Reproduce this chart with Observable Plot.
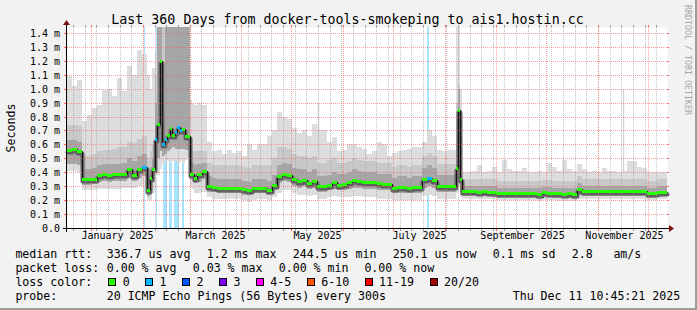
<!DOCTYPE html>
<html>
<head>
<meta charset="utf-8">
<script src="https://cdn.jsdelivr.net/npm/d3@7"></script>
<script src="https://cdn.jsdelivr.net/npm/@observablehq/plot@0.6"></script>
<style>
  html, body { margin: 0; padding: 0; background: #f2f2f2; }
  svg { display: block; }
</style>
</head>
<body>
<div id="chart"></div>
<script>
// ---------------- data (values in milliseconds) ----------------
const startUTC = Date.UTC(2024, 11, 17, 12);   // left edge of the time axis
const spanDays = 360;
const yTop = 1.443;

// sample start, in days from the left edge
const days = [
  0,3,6,9,12,15,18,21,24,27,30,33,36,39,42,45,
  48,49.5,51,52.5,54,55.5,57,58.5,60,61.5,63,64.5,66,67.5,69,70.5,72,73.5,75,76.5,
  78,81,84,87,90,93,96,99,102,105,108,111,114,117,120,123,126,129,132,135,138,141,144,147,150,153,156,159,
  162,165,168,171,174,177,180,183,186,189,192,195,198,201,204,207,210,213,216,219,222,225,228,
  231,233.4,234.6,235.8,
  237,240,243,246,249,252,255,258,261,264,267,270,273,276,279,282,285,288,291,294,297,300,303,306,309,312,315,318,321,324,327,330,333,336,339,342,345,348,351,354,357
];
// median rtt
const medRtt = [
  .56,.565,.55,.35,.35,.355,.38,.385,.38,.385,.385,.39,.42,.38,.42,.435,
  .27,.36,.42,.64,.75,1.2,.60,.64,.67,.72,.67,.69,.725,.705,.71,.66,.66,.39,.39,.36,
  .39,.41,.30,.295,.29,.29,.29,.29,.29,.28,.27,.29,.29,.29,.27,.31,.37,.39,.38,.35,.335,.345,.325,.34,.30,.30,.31,.33,
  .31,.315,.327,.345,.335,.33,.327,.327,.32,.318,.318,.29,.295,.295,.29,.295,.295,.35,.36,.342,.30,.30,.30,
  .30,.43,.845,.35,
  .263,.263,.263,.262,.263,.262,.26,.252,.252,.252,.25,.25,.251,.25,.249,.245,.255,.253,.25,.248,.247,.248,.245,.28,.265,.265,.266,.265,.265,.263,.264,.265,.263,.265,.266,.264,.265,.25,.252,.26,.262
];
// smoke: lowest ping
const smokeLo = [
  .41,.41,.40,.27,.27,.27,.28,.28,.28,.28,.28,.29,.29,.29,.30,.30,
  .20,.20,.25,.30,.38,.42,.46,.48,.48,.47,.48,.48,.47,.48,.47,.49,.50,.30,.28,.25,
  .25,.26,.22,.21,.21,.21,.21,.21,.21,.20,.19,.20,.21,.21,.20,.22,.25,.27,.27,.25,.24,.24,.23,.24,.21,.21,.22,.23,
  .22,.22,.22,.23,.23,.22,.22,.22,.21,.21,.21,.20,.20,.20,.20,.20,.20,.23,.24,.23,.21,.21,.21,
  .21,.25,.30,.22,
  .205,.205,.205,.205,.205,.205,.205,.20,.20,.20,.20,.20,.20,.20,.20,.195,.20,.20,.20,.195,.195,.195,.195,.21,.21,.21,.21,.21,.21,.21,.21,.21,.21,.21,.21,.21,.21,.20,.20,.205,.205
];
// smoke: lower edge of the inner pings
const smokeDn = [
  .46,.46,.45,.31,.31,.315,.33,.335,.33,.335,.335,.34,.36,.34,.36,.37,
  .23,.27,.33,.42,.50,.55,.52,.53,.55,.57,.58,.57,.57,.57,.57,.56,.56,.35,.34,.32,
  .33,.35,.26,.255,.25,.25,.25,.25,.25,.24,.235,.25,.25,.25,.24,.27,.32,.34,.33,.30,.29,.30,.28,.29,.26,.26,.27,.28,
  .27,.27,.28,.29,.29,.28,.28,.28,.27,.27,.27,.25,.25,.25,.25,.25,.25,.29,.30,.29,.26,.26,.26,
  .26,.33,.40,.26,
  .228,.228,.228,.227,.228,.227,.225,.218,.218,.218,.216,.216,.217,.216,.215,.211,.221,.219,.216,.214,.213,.214,.211,.24,.23,.23,.231,.23,.23,.228,.229,.23,.228,.23,.231,.229,.23,.216,.218,.225,.227
];
// smoke: upper edge of the inner pings
const smokeUp = [
  .63,.63,.62,.42,.42,.43,.45,.46,.46,.46,.46,.47,.50,.48,.52,.53,
  .38,.44,.50,.90,1.44,1.44,.80,1.44,1.44,1.44,1.44,1.44,1.44,1.44,1.44,1.44,1.44,.47,.47,.45,
  .46,.47,.37,.36,.35,.35,.35,.35,.35,.34,.33,.35,.35,.35,.34,.38,.45,.47,.46,.43,.42,.42,.40,.42,.37,.37,.38,.40,
  .39,.39,.40,.42,.41,.40,.40,.40,.39,.39,.39,.36,.37,.37,.36,.37,.37,.43,.45,.43,.38,.38,.38,
  .38,.60,1.00,.45,
  .30,.30,.30,.30,.30,.30,.30,.29,.29,.29,.29,.29,.29,.29,.29,.285,.295,.295,.29,.29,.29,.29,.285,.32,.305,.305,.305,.305,.305,.305,.305,.305,.305,.305,.305,.305,.305,.29,.29,.30,.30
];
// smoke: upper edge of the middle pings
const smokeHi = [
  .74,.74,.73,.52,.52,.53,.55,.56,.56,.57,.58,.58,.62,.61,.64,.66,
  .50,.55,.60,1.10,1.44,1.44,1.44,1.44,1.44,1.44,1.44,1.44,1.44,1.44,1.44,1.44,1.44,.56,.55,.55,
  .55,.55,.47,.45,.45,.45,.45,.45,.45,.44,.43,.45,.45,.45,.45,.50,.58,.58,.57,.53,.52,.52,.50,.52,.47,.47,.49,.50,
  .47,.47,.48,.50,.49,.48,.48,.48,.47,.47,.47,.44,.45,.45,.44,.45,.45,.52,.54,.52,.46,.46,.46,
  .46,.90,1.02,.60,
  .35,.35,.35,.35,.35,.35,.35,.34,.34,.34,.34,.34,.34,.34,.34,.335,.345,.345,.34,.34,.34,.34,.335,.37,.355,.355,.355,.355,.355,.355,.355,.355,.355,.355,.355,.355,.355,.34,.34,.35,.35
];
// smoke: highest ping
const smokeMax = [
  1.09,1.02,1.06,.77,.81,.86,.88,.99,1.0,.95,1.08,.98,1.16,1.1,1.28,1.25,
  1.10,1.00,1.15,1.25,1.44,1.44,1.44,1.44,1.44,1.44,1.44,1.44,1.44,1.44,1.44,1.44,1.44,.92,.90,.88,
  .90,.88,.62,.55,.56,.53,.56,.54,.55,.52,.60,.56,.60,.60,.66,.70,.83,.80,.78,.72,.68,.70,.66,.75,.70,.70,.62,.65,
  .55,.56,.60,.60,.58,.57,.53,.55,.62,.60,.52,.54,.55,.56,.57,.58,.58,.62,.70,.66,.56,.55,.56,
  .56,1.44,1.44,1.00,
  .40,.40,.41,.45,.40,.41,.44,.40,.49,.42,.41,.41,.43,.40,.40,.41,.40,.47,.44,.41,.49,.42,.41,.46,.42,.40,.41,.40,.43,.41,.41,.40,.41,.48,.48,.44,.43,.40,.40,.40,.40
];
// samples whose median is coloured by loss (pings lost out of 20)
const lossDays   = [45, 52.5, 57, 58.5, 64.5, 66, 67.5, 216];
const lossCounts = [1, 1, 1, 1, 1, 1, 1, 1];
// loss background bars (days)
const lossBarFrom = [46.0, 53.4, 57.6, 61.2, 64.2, 68.7, 216.0];
const lossBarTo   = [47.0, 54.2, 60.0, 63.0, 67.4, 70.0, 217.2];
// thin single max-ping spikes
const spikeDays = [150.3, 333.4];
const spikeBase = [0.50, 0.40];
const spikeTops = [0.90, 1.00];

const yTicks = [0,0.1,0.2,0.3,0.4,0.5,0.6,0.7,0.8,0.9,1.0,1.1,1.2,1.3,1.4];
const monthLabels = ["January 2025","March 2025","May 2025","July 2025","September 2025","November 2025"];
const monthLabelStarts = ["2025-01-01","2025-03-01","2025-05-01","2025-07-01","2025-09-01","2025-11-01"];

const lossLegend = ["0","1","2","3","4-5","6-10","11-19","20/20"];
const lossLegendColors = ["#26ff00","#00b8ff","#0059ff","#7e00ff","#ff00ff","#ff5500","#ff0000","#a00000"];

const titleText = "Last 360 Days from docker-tools-smokeping to ais1.hostin.cc";
const legendLines = [
  [["median rtt:",16],["336.7 us avg",107.3],["1.2 ms max",207.3],["244.5 us min",293.3],["250.1 us now",393.3],["0.1 ms sd",493.3],["2.8",572.3],["am/s",614]],
  [["packet loss:",16],["0.00 % avg",107.3],["0.03 % max",193.3],["0.00 % min",279.3],["0.00 % now",365]],
  [["loss color:",16]],
  [["probe:",16],["20 ICMP Echo Pings (56 Bytes) every 300s",107.3],["Thu Dec 11 10:45:21 2025",513.3]]
];

// ---------------- build ----------------
const DAY = 864e5;
const T = d => new Date(startUTC + d * DAY);
const t0 = T(0), t1 = T(spanDays);

function lossColor(n) {
  if (n === 0) return lossLegendColors[0];
  if (n === 1) return lossLegendColors[1];
  if (n === 2) return lossLegendColors[2];
  if (n === 3) return lossLegendColors[3];
  if (n <= 5) return lossLegendColors[4];
  if (n <= 10) return lossLegendColors[5];
  if (n <= 19) return lossLegendColors[6];
  return lossLegendColors[7];
}

const rows = days.map((d, i) => {
  const k = lossDays.indexOf(d);
  return {
    t: T(d), t2: T(i + 1 < days.length ? days[i + 1] : spanDays),
    med: medRtt[i], lo: smokeLo[i], dn: smokeDn[i], up: smokeUp[i], hi: smokeHi[i], mx: smokeMax[i],
    loss: k >= 0 ? lossCounts[k] : 0
  };
});
const lineRows = rows.concat([{t: t1, med: medRtt[medRtt.length - 1]}]);
const lossBars = lossBarFrom.map((a, i) => ({a: T(a), b: T(lossBarTo[i])}));
const spikes = spikeDays.map((d, i) => ({t: T(d), base: spikeBase[i], top: spikeTops[i]}));
const weeks = d3.utcSaturday.range(t0, t1);
const months = d3.utcMonth.range(t0, t1);
const labelRows = monthLabels.map((l, i) => ({label: l, t: new Date(new Date(monthLabelStarts[i] + "T00:00:00Z").getTime() + 15.5 * DAY)}));

const GRID = "#9a9a9a", MGRID = "#ff5f5f";
const FONT = "'DejaVu Sans Mono', monospace";

const plot = Plot.plot({
  width: 697, height: 310,
  marginLeft: 67, marginRight: 30, marginTop: 27, marginBottom: 82,
  x: {type: "utc", domain: [t0, t1], axis: null, round: true},
  y: {domain: [0, yTop], axis: null, round: true},
  style: {background: "#f2f2f2", fontFamily: FONT, overflow: "visible", color: "#000"},
  marks: [
    Plot.frame({fill: "#ffffff", stroke: "none"}),
    Plot.rect(lossBars, {x1: "a", x2: "b", y1: 0, y2: yTop, fill: "#a8e4fc", shapeRendering: "crispEdges"}),
    Plot.rect(rows, {x1: "t", x2: "t2", y1: "lo", y2: "mx", fill: "#dddddd", shapeRendering: "crispEdges"}),
    Plot.rect(rows, {x1: "t", x2: "t2", y1: "dn", y2: "hi", fill: "#c8c8c8", shapeRendering: "crispEdges"}),
    Plot.rect(rows, {x1: "t", x2: "t2", y1: "dn", y2: "up", fill: "#a6a6a6", shapeRendering: "crispEdges"}),
    Plot.ruleX(spikes, {x: "t", y1: "base", y2: "top", stroke: "#d6d6d6", strokeWidth: 1.5}),
    // dark core of the smoke, just under the median
    Plot.line(lineRows, {x: "t", y: "med", curve: "step-after", stroke: "#606060", strokeWidth: 4, dy: 2}),
    // grid
    Plot.ruleX(weeks, {stroke: GRID, strokeOpacity: 0.6, strokeDasharray: "1,1"}),
    Plot.ruleX(months, {stroke: MGRID, strokeOpacity: 0.6, strokeDasharray: "1,1"}),
    Plot.ruleY(yTicks.filter(v => v > 0), {stroke: MGRID, strokeOpacity: 0.6, strokeDasharray: "1,1"}),
    // median
    Plot.line(lineRows, {x: "t", y: "med", curve: "step-after", stroke: "#111", strokeWidth: 1}),
    Plot.ruleY(rows, {x1: "t", x2: "t2", y: "med", stroke: d => lossColor(d.loss), strokeWidth: 3}),
    // tick labels
    Plot.text(yTicks, {frameAnchor: "left", y: d => d, text: d => d === 0 ? "0.0" : d.toFixed(1) + " m", textAnchor: "end", dx: -7.5, fontSize: 10, fill: "#000"}),
    Plot.text(labelRows, {x: "t", frameAnchor: "bottom", text: "label", dy: 10, fontSize: 10, fill: "#000"})
  ]
});
document.getElementById("chart").append(plot);

// ---------------- frame decorations, title and legend ----------------
const svg = d3.select(plot);
const sx = plot.scale("x"), sy = plot.scale("y");
const X0 = sx.apply(t0), X1 = sx.apply(t1), Y0 = sy.apply(0), Y1 = sy.apply(yTop);
const g = svg.append("g");

// tick marks on the frame
weeks.forEach(w => {
  const x = Math.round(sx.apply(w)) + 0.5;
  g.append("line").attr("x1", x).attr("x2", x).attr("y1", Y0).attr("y2", Y0 + 3).attr("stroke", GRID);
  g.append("line").attr("x1", x).attr("x2", x).attr("y1", Y1 - 2).attr("y2", Y1).attr("stroke", GRID);
});
months.forEach(m => {
  const x = Math.round(sx.apply(m)) + 0.5;
  g.append("line").attr("x1", x).attr("x2", x).attr("y1", Y0).attr("y2", Y0 + 3).attr("stroke", MGRID);
  g.append("line").attr("x1", x).attr("x2", x).attr("y1", Y1 - 2).attr("y2", Y1).attr("stroke", MGRID);
});
yTicks.forEach(v => {
  const y = Math.round(sy.apply(v)) + 0.5;
  g.append("line").attr("x1", X0 - 3).attr("x2", X0).attr("y1", y).attr("y2", y).attr("stroke", MGRID);
  g.append("line").attr("x1", X1).attr("x2", X1 + 2).attr("y1", y).attr("y2", y).attr("stroke", MGRID);
});
// axes + arrows
const ya = Math.round(Y0) + 0.5, xa = Math.round(X0) - 0.5;
g.append("line").attr("x1", X0 - 4).attr("x2", X1 + 4).attr("y1", ya).attr("y2", ya).attr("stroke", "#000");
g.append("line").attr("x1", xa).attr("x2", xa).attr("y1", Y0 + 4).attr("y2", Y1 - 4).attr("stroke", "#000");
g.append("path").attr("d", `M${X1 + 2},${ya - 3.5}L${X1 + 2},${ya + 3.5}L${X1 + 7},${ya}Z`).attr("fill", "#7a1010");
g.append("path").attr("d", `M${xa - 3.5},${Y1 - 2}L${xa + 3.5},${Y1 - 2}L${xa},${Y1 - 7}Z`).attr("fill", "#7a1010");

// title
svg.append("text").attr("x", 347.5).attr("y", 24).attr("text-anchor", "middle")
  .attr("font-size", 13.3).attr("fill", "#000").text(titleText);
// y title
svg.append("text").attr("transform", "translate(10.5,128) rotate(-90)").attr("text-anchor", "middle")
  .attr("dominant-baseline", "central").attr("font-size", 11.6).attr("fill", "#000").text("Seconds");
// watermark
svg.append("text").attr("transform", "translate(687.5,5) rotate(90)").attr("text-anchor", "start")
  .attr("dominant-baseline", "central").attr("font-size", 8.3).attr("fill", "#a6a6a6").text("RRDTOOL / TOBI OETIKER");

// legend
const baselines = [258.3, 272.3, 286.3, 300];
legendLines.forEach((line, li) => {
  line.forEach(([txt, x]) => {
    svg.append("text").attr("x", x - 0.6).attr("y", baselines[li]).attr("font-size", 11.6)
      .attr("text-anchor", "start").attr("fill", "#000").text(txt);
  });
});
let bx = 108.3;
lossLegend.forEach((lab, i) => {
  const x = Math.round(bx) + 0.5;
  svg.append("rect").attr("x", x).attr("y", 278.5).attr("width", 7).attr("height", 7)
    .attr("fill", lossLegendColors[i]).attr("stroke", "#000");
  svg.append("text").attr("x", bx + 14.4).attr("y", baselines[2]).attr("font-size", 11.6)
    .attr("text-anchor", "start").attr("fill", "#000").text(lab);
  bx += 29.9 + 7 * lab.length;
});

// 3D border (right / bottom shade)
svg.append("rect").attr("x", 695).attr("y", 0).attr("width", 2).attr("height", 310).attr("fill", "#9c9c9c");
svg.append("rect").attr("x", 0).attr("y", 308).attr("width", 697).attr("height", 2).attr("fill", "#9c9c9c");
</script>
</body>
</html>
